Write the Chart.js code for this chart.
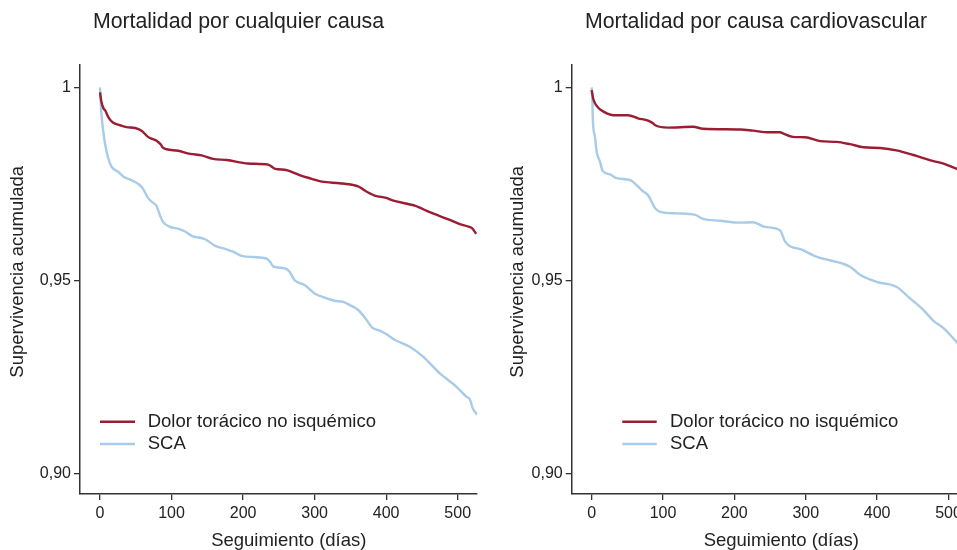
<!DOCTYPE html>
<html lang="es">
<head>
<meta charset="UTF-8">
<title>Supervivencia acumulada</title>
<script src="https://cdn.jsdelivr.net/npm/chart.js"></script>
<style>
    html, body { margin: 0; padding: 0; overflow: hidden; background: #fff; }
    body { width: 957px; height: 550px; position: relative; }
    canvas { position: absolute; top: 0; }
    #chartTodas { left: 0; }
    #chartCV { left: 480px; }
</style>
</head>
<body>
<canvas id="chartTodas" width="480" height="550"></canvas>
<canvas id="chartCV" width="552" height="550"></canvas>
<script>
    // etiquetas y ejes
    const seriesLabels = ['Dolor torácico no isquémico', 'SCA'];
    const xTicks = [0, 100, 200, 300, 400, 500];
    const xTickLabels = ['0', '100', '200', '300', '400', '500'];
    const yTicks = [0.90, 0.95, 1];
    const yTickLabels = ['0,90', '0,95', '1'];

    // Mortalidad por cualquier causa
    const diasTodasNoIsq = [0, 2, 5, 7, 12, 18, 28, 37, 49, 58, 67, 74, 79, 85, 88, 93, 109, 126, 142, 158, 177, 207, 235, 240, 245, 258, 261, 279, 295, 310, 335, 355, 362, 370, 384, 400, 410, 440, 461, 489, 503, 515, 520, 526];
    const supTodasNoIsq = [0.9987, 0.9962, 0.9945, 0.9941, 0.9922, 0.9909, 0.9902, 0.9897, 0.9895, 0.9888, 0.9872, 0.9866, 0.9862, 0.9852, 0.9844, 0.9840, 0.9836, 0.9828, 0.9824, 0.9815, 0.9812, 0.9803, 0.9800, 0.9795, 0.9789, 0.9787, 0.9786, 0.9773, 0.9764, 0.9756, 0.9752, 0.9747, 0.9743, 0.9733, 0.9720, 0.9714, 0.9707, 0.9694, 0.9677, 0.9657, 0.9646, 0.9640, 0.9636, 0.9621];
    const diasTodasSCA = [0, 1, 2.3, 5, 7, 11, 16, 25, 33, 46, 55, 60, 67, 73, 79, 84, 88, 98, 110, 119, 128, 147, 161, 175, 186, 198, 215, 233, 238, 242, 258, 265, 272, 286, 300, 314, 328, 340, 350, 361, 372, 380, 392, 400, 412, 433, 452, 475, 498, 512, 517, 521, 527];
    const supTodasSCA = [1.0, 0.9960, 0.9924, 0.9880, 0.9855, 0.9820, 0.9795, 0.9782, 0.9769, 0.9758, 0.9748, 0.9738, 0.9714, 0.9703, 0.9693, 0.9668, 0.9652, 0.9639, 0.9634, 0.9627, 0.9616, 0.9607, 0.9590, 0.9582, 0.9575, 0.9564, 0.9561, 0.9557, 0.9548, 0.9537, 0.9532, 0.9523, 0.9501, 0.9489, 0.9467, 0.9456, 0.9448, 0.9445, 0.9436, 0.9424, 0.9400, 0.9379, 0.9370, 0.9362, 0.9347, 0.9329, 0.9303, 0.9260, 0.9226, 0.9200, 0.9193, 0.9170, 0.9153];

    // Mortalidad por causa cardiovascular
    const diasCVNoIsq = [0, 2, 4.6, 9, 14, 22, 30, 51, 65, 79, 86, 89, 107, 142, 156, 208, 226, 247, 264, 268, 282, 299, 320, 343, 362, 381, 404, 427, 451, 479, 493, 511, 526];
    const supCVNoIsq = [0.9993, 0.9972, 0.9959, 0.9948, 0.9940, 0.9932, 0.9928, 0.9928, 0.9920, 0.9914, 0.9907, 0.9902, 0.9896, 0.9898, 0.9893, 0.9891, 0.9888, 0.9884, 0.9884, 0.9881, 0.9872, 0.9871, 0.9861, 0.9859, 0.9853, 0.9845, 0.9843, 0.9837, 0.9825, 0.9809, 0.9803, 0.9790, 0.9783];
    const diasCVSCA = [0, 1, 1.5, 4.6, 7, 11.6, 15.4, 25.6, 35, 54, 63, 70, 79, 89, 96, 119, 145, 156, 180, 208, 226, 243, 264, 271, 296, 315, 362, 376, 399, 427, 446, 465, 479, 493, 511, 526];
    const supCVSCA = [1.0, 0.9965, 0.9920, 0.9872, 0.9833, 0.9808, 0.9784, 0.9775, 0.9765, 0.9760, 0.9747, 0.9734, 0.9721, 0.9687, 0.9678, 0.9674, 0.9670, 0.9660, 0.9655, 0.9650, 0.9651, 0.9639, 0.9630, 0.9601, 0.9579, 0.9562, 0.9536, 0.9515, 0.9497, 0.9484, 0.9454, 0.9424, 0.9396, 0.9377, 0.9342, 0.9312];

    const rojo = '#9b1c33';
    const azul = '#a8cbea';
    const ejeColor = '#333';
    const textoColor = '#222';

    Chart.defaults.font.family = '"Liberation Sans", Arial, Helvetica, sans-serif';
    Chart.defaults.color = textoColor;

    function puntos(dias, sup) {
        return dias.map((d, i) => ({ x: d, y: sup[i] }));
    }

    // leyenda dentro del área del gráfico
    const leyenda = {
        id: 'leyenda',
        afterDraw(chart, args, opts) {
            const ctx = chart.ctx;
            ctx.save();
            ctx.font = '18.5px "Liberation Sans", Arial, Helvetica, sans-serif';
            ctx.textBaseline = 'middle';
            chart.data.datasets.forEach((ds, i) => {
                const y = opts.y + i * opts.rowGap;
                ctx.strokeStyle = ds.borderColor;
                ctx.lineWidth = 2.5;
                ctx.beginPath();
                ctx.moveTo(opts.x, y);
                ctx.lineTo(opts.x + opts.lineLen, y);
                ctx.stroke();
                ctx.fillStyle = textoColor;
                ctx.fillText(ds.label, opts.x + opts.lineLen + opts.gap, y);
            });
            ctx.restore();
        }
    };

    // el panel derecho está recortado por el borde de la imagen, su eje sigue más allá
    function crearGrafico(id, titulo, noIsq, sca, xMax, tituloX, anchoEjeY, padDerecha, padTituloY, posLeyenda) {
        return new Chart(document.getElementById(id), {
            type: 'line',
            data: {
                datasets: [
                    { label: seriesLabels[0], data: noIsq, borderColor: rojo, borderWidth: 2.4 },
                    { label: seriesLabels[1], data: sca, borderColor: azul, borderWidth: 2.4 }
                ]
            },
            options: {
                responsive: false,
                animation: false,
                layout: { padding: { left: 0, right: padDerecha, top: 0, bottom: 0 } },
                elements: {
                    point: { radius: 0 },
                    line: { cubicInterpolationMode: 'monotone', fill: false }
                },
                plugins: {
                    legend: { display: false },
                    tooltip: { enabled: false },
                    title: {
                        display: true,
                        text: titulo,
                        color: textoColor,
                        font: { size: 21.3, weight: 'normal', lineHeight: 1.2 },
                        padding: { top: 9.2, bottom: 30.2 }
                    },
                    leyenda: posLeyenda
                },
                scales: {
                    x: {
                        type: 'linear',
                        min: -28,
                        max: xMax,
                        afterBuildTicks: s => { s.ticks = xTicks.map(v => ({ value: v })); },
                        afterFit: s => { s.height = 56; },
                        ticks: {
                            callback: (v, i) => xTickLabels[i],
                            font: { size: 16 },
                            color: textoColor,
                            padding: 4,
                            maxRotation: 0,
                            autoSkip: false
                        },
                        grid: { drawOnChartArea: false, tickLength: 6, color: ejeColor, lineWidth: 1.3 },
                        border: { color: ejeColor, width: 1.5 },
                        title: {
                            display: true,
                            text: tituloX,
                            color: textoColor,
                            font: { size: 18.5, lineHeight: 1 },
                            padding: { top: 0, bottom: 0 }
                        }
                    },
                    y: {
                        min: 0.8948,
                        max: 1.0058,
                        afterBuildTicks: s => { s.ticks = yTicks.map(v => ({ value: v })); },
                        afterFit: s => { s.width = anchoEjeY; },
                        ticks: {
                            callback: (v, i) => yTickLabels[i],
                            font: { size: 16 },
                            color: textoColor,
                            padding: 3
                        },
                        grid: { drawOnChartArea: false, tickLength: 6, color: ejeColor, lineWidth: 1.3 },
                        border: { color: ejeColor, width: 1.5 },
                        title: {
                            display: true,
                            text: '   Supervivencia acumulada',
                            color: textoColor,
                            font: { size: 18.5, lineHeight: 1 },
                            padding: { top: padTituloY, bottom: 0 }
                        }
                    }
                }
            },
            plugins: [leyenda]
        });
    }

    crearGrafico('chartTodas', 'Mortalidad por cualquier causa',
        puntos(diasTodasNoIsq, supTodasNoIsq), puntos(diasTodasSCA, supTodasSCA),
        527, '    Seguimiento (días)',
        80, 3, 8.75, { x: 100, y: 421.7, rowGap: 22.3, lineLen: 35, gap: 12.7 });

    crearGrafico('chartCV', 'Mortalidad por causa cardiovascular',
        puntos(diasCVNoIsq, supCVNoIsq), puntos(diasCVSCA, supCVSCA),
        617, 'Seguimiento (días)        ',
        91.7, 0, 28.75, { x: 142.3, y: 421.7, rowGap: 22.3, lineLen: 34.4, gap: 13.3 });
</script>
</body>
</html>
